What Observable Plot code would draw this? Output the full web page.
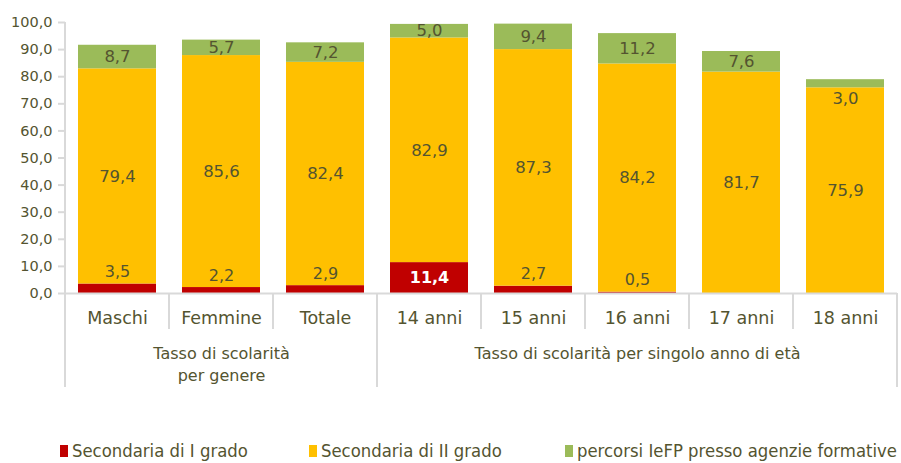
<!DOCTYPE html>
<html><head><meta charset="utf-8">
<script src="https://cdn.jsdelivr.net/npm/d3@7"></script>
<script src="https://cdn.jsdelivr.net/npm/@observablehq/plot@0.6"></script>
<style>
body{margin:0;background:#fff;}
#chart{width:901px;height:463px;position:relative;overflow:hidden;}
.legend{position:absolute;top:440px;left:0;width:901px;height:22px;font-family:"DejaVu Sans",sans-serif;font-size:18.5px;color:#545430;}
.item{position:absolute;white-space:nowrap;line-height:22px;}
.sw{position:absolute;left:0;top:5px;width:8px;height:12px;}
.lt{position:absolute;left:12px;top:0;white-space:nowrap;transform-origin:0 50%;}
</style></head>
<body><div id="chart"></div>
<script>
const categories = ["Maschi","Femmine","Totale","14 anni","15 anni","16 anni","17 anni","18 anni"];
const groups = ["Tasso di scolarità\nper genere", "Tasso di scolarità per singolo anno di età"];
const groupOf = [0,0,0,1,1,1,1,1];
const seriesNames = ["Secondaria di I grado","Secondaria di II grado","percorsi IeFP presso agenzie formative"];
const secondariaI = [3.5,2.2,2.9,11.4,2.7,0.5,0,0];
const secondariaII = [79.4,85.6,82.4,82.9,87.3,84.2,81.7,75.9];
const iefp = [8.7,5.7,7.2,5.0,9.4,11.2,7.6,3.0];
const yTicks = [0,10,20,30,40,50,60,70,80,90,100];
const colors = ["#C00000","#FFC000","#9BBB59"];

const textColor = "#545430";
const gridColor = "#D9D9D9";
const fmt = v => v.toFixed(1).replace(".", ",");
const seriesArrays = [secondariaI, secondariaII, iefp];

const data = [];
const labels = [];
categories.forEach((c, i) => {
  let base = 0;
  seriesArrays.forEach((arr, s) => {
    const v = arr[i];
    data.push({cat: c, series: seriesNames[s], value: v});
    if (v > 0) labels.push({cat: c, s, v, top: base + v, mid: base + v / 2});
    base += v;
  });
});

const groupLabels = groups.map((g, gi) => {
  const idx = categories.map((c, i) => i).filter(i => groupOf[i] === gi);
  return {text: g, cat: categories[idx[Math.floor(idx.length / 2)]]};
});

const font = "DejaVu Sans";

function separators(index, scales, values, dims) {
  const x = scales.x, y = scales.y;
  const bw = typeof x.bandwidth === "function" ? x.bandwidth() : x.bandwidth;
  const step = x(categories[1]) - x(categories[0]);
  const gap = (step - bw) / 2;
  const g = d3.create("svg:g").attr("stroke", gridColor).attr("stroke-width", 2).attr("fill", "none");
  const y0 = y(0);
  const left = x(categories[0]) - gap;
  g.append("line").attr("x1", left).attr("x2", left).attr("y1", y(100)).attr("y2", y0 + 94);
  categories.forEach((c, i) => {
    const right = x(c) + bw + gap;
    const last = i === categories.length - 1;
    const groupEnd = last || groupOf[i] !== groupOf[i + 1];
    g.append("line").attr("x1", right).attr("x2", right)
      .attr("y1", y0).attr("y2", y0 + (groupEnd ? 94 : 36));
  });
  return g.node();
}

const plot = Plot.plot({
  width: 901,
  height: 400,
  marginTop: 22,
  marginBottom: 107,
  marginLeft: 65,
  marginRight: 4,
  style: {fontFamily: font, color: textColor, background: "#fff"},
  x: {domain: categories, paddingInner: 0.25, paddingOuter: 0.125, axis: null},
  y: {domain: [0, 100], axis: null},
  color: {domain: seriesNames, range: colors},
  marks: [
    Plot.barY(data, {x: "cat", y: "value", fill: "series"}),
    Plot.ruleY([0], {stroke: gridColor, strokeWidth: 2}),
    Plot.axisY({ticks: yTicks, tickFormat: fmt, tickSize: 7, tickPadding: 6, stroke: gridColor, strokeWidth: 2, fontSize: 14.5, fill: textColor}),
    separators,
    Plot.text(labels.filter(d => d.s === 0 && d.v >= 5), {x: "cat", y: "mid", text: d => fmt(d.v), fill: "#fff", fontWeight: "bold", fontSize: 16}),
    Plot.text(labels.filter(d => d.s === 0 && d.v < 5), {x: "cat", y: "top", text: d => fmt(d.v), fill: textColor, dy: -12, fontSize: 16}),
    Plot.text(labels.filter(d => d.s === 1), {x: "cat", y: "mid", text: d => fmt(d.v), fill: textColor, fontSize: 16.5}),
    Plot.text(labels.filter(d => d.s === 2 && d.v >= 4), {x: "cat", y: "mid", text: d => fmt(d.v), fill: textColor, fontSize: 16.5}),
    Plot.text(labels.filter(d => d.s === 2 && d.v < 4), {x: "cat", y: "mid", text: d => fmt(d.v), fill: textColor, fontSize: 16.5, dy: 15}),
    Plot.text(categories, {x: d => d, frameAnchor: "bottom", dy: 30, fontSize: 17.5, fill: textColor}),
    Plot.text(groupLabels, {x: "cat", text: "text", frameAnchor: "bottom", dy: 50, lineAnchor: "top", lineHeight: 1.375, fontSize: 16, fill: textColor})
  ]
});
const chart = document.getElementById("chart");
chart.appendChild(plot);

const legend = document.createElement("div");
legend.className = "legend";
chart.appendChild(legend);
const legendX = [60, 309, 565];
const texts = [];
seriesNames.forEach((n, i) => {
  const it = document.createElement("div");
  it.className = "item";
  it.style.left = legendX[i] + "px";
  it.innerHTML = `<span class="sw" style="background:${colors[i]}"></span><span class="lt">${n}</span>`;
  legend.appendChild(it);
  texts.push(it.querySelector(".lt"));
});
// condense legend text uniformly (reference uses a narrow face), keeping the last entry inside the frame
const w0 = texts[0].getBoundingClientRect().width;
const w2 = texts[2].getBoundingClientRect().width;
const k = Math.min(185 / w0, (901 - legendX[2] - 12 - 4) / w2);
texts.forEach(t => t.style.transform = `scaleX(${k})`);
</script>
</body></html>
